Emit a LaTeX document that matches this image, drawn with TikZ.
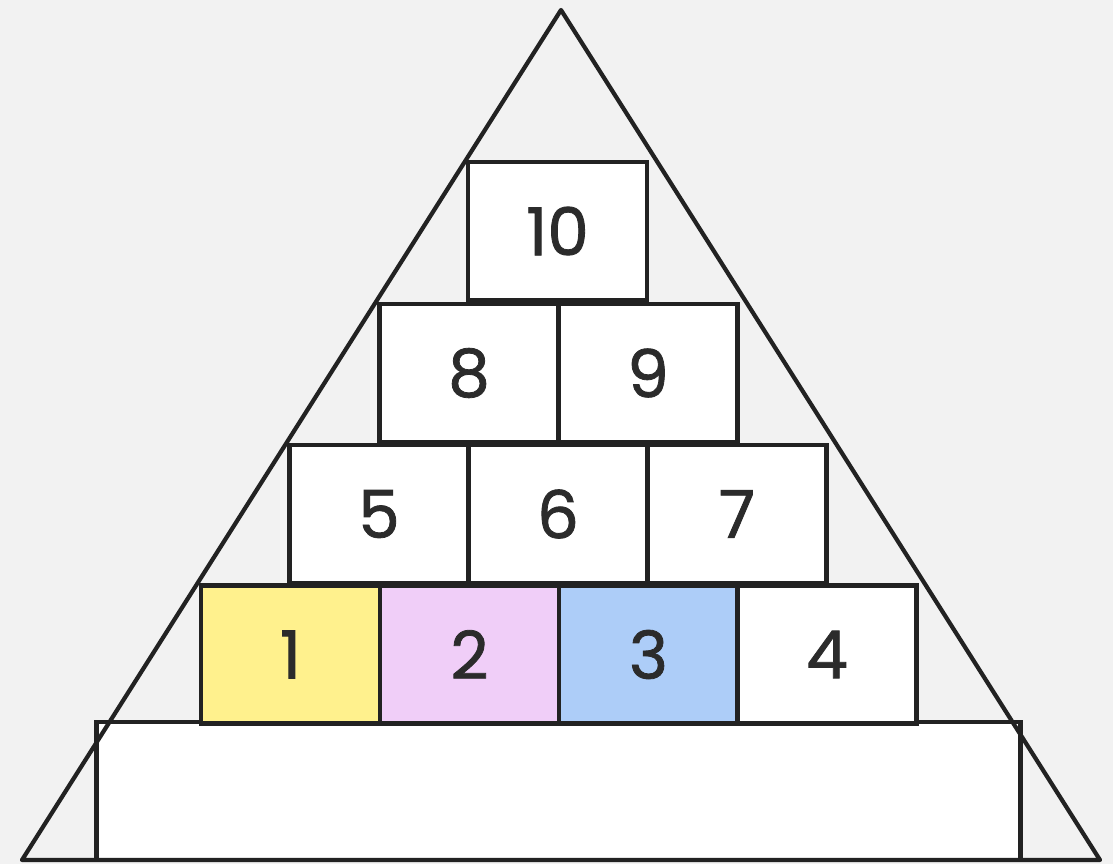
\documentclass[tikz,border=0pt]{standalone}
\usepackage{fontspec}
\setmainfont{Poppins}
\newfontfamily\brickfont{Poppins}[FakeBold=1.2]
\definecolor{paper}{HTML}{F2F2F2}
\definecolor{ink}{HTML}{222222}
\definecolor{digit}{HTML}{2B2B2B}
\definecolor{lemon}{HTML}{FFF18D}
\definecolor{lilac}{HTML}{F0CEF8}
\definecolor{sky}{HTML}{ADCDF8}
\begin{document}
\begin{tikzpicture}[x=0.025cm, y=-0.025cm]
    \tikzstyle{brick} = [rectangle, draw=ink, line width=3.4pt, fill=white, inner sep=0pt,
        minimum width=4.475cm, minimum height=3.45cm, text=digit,
        font=\brickfont\fontsize{47}{47}\selectfont]
    \tikzstyle{outline} = [draw=ink, line width=3pt, line join=round]

    % Paper background
    \fill [paper] (0,0) rectangle (1113,864);
    \useasboundingbox (0,0) rectangle (1113,864);

    % Base slab
    \node [brick, minimum width=23.075cm] (base) at (558.5,791) {};

    % Bottom row
    \node [brick, fill=lemon] (b1) at (290.5,654.5) {1};
    \node [brick, fill=lilac] (b2) at (469.5,654.5) {2};
    \node [brick, fill=sky] (b3) at (648.5,654.5) {3};
    \node [brick] (b4) at (827,654.5) {4};

    % Second row
    \node [brick] (b5) at (379,514) {5};
    \node [brick] (b6) at (558,514) {6};
    \node [brick] (b7) at (737,514) {7};

    % Third row
    \node [brick] (b8) at (469,373) {8};
    \node [brick] (b9) at (648,373) {9};

    % Top
    \node [brick] (b10) at (557.5,231) {10};

    % Enclosing triangle
    \coordinate (apex) at (561,10);
    \coordinate (left) at (22,860);
    \coordinate (right) at (1100,860);
    \draw [outline] (left) -- (apex) -- (right) -- cycle;
\end{tikzpicture}
\end{document}
